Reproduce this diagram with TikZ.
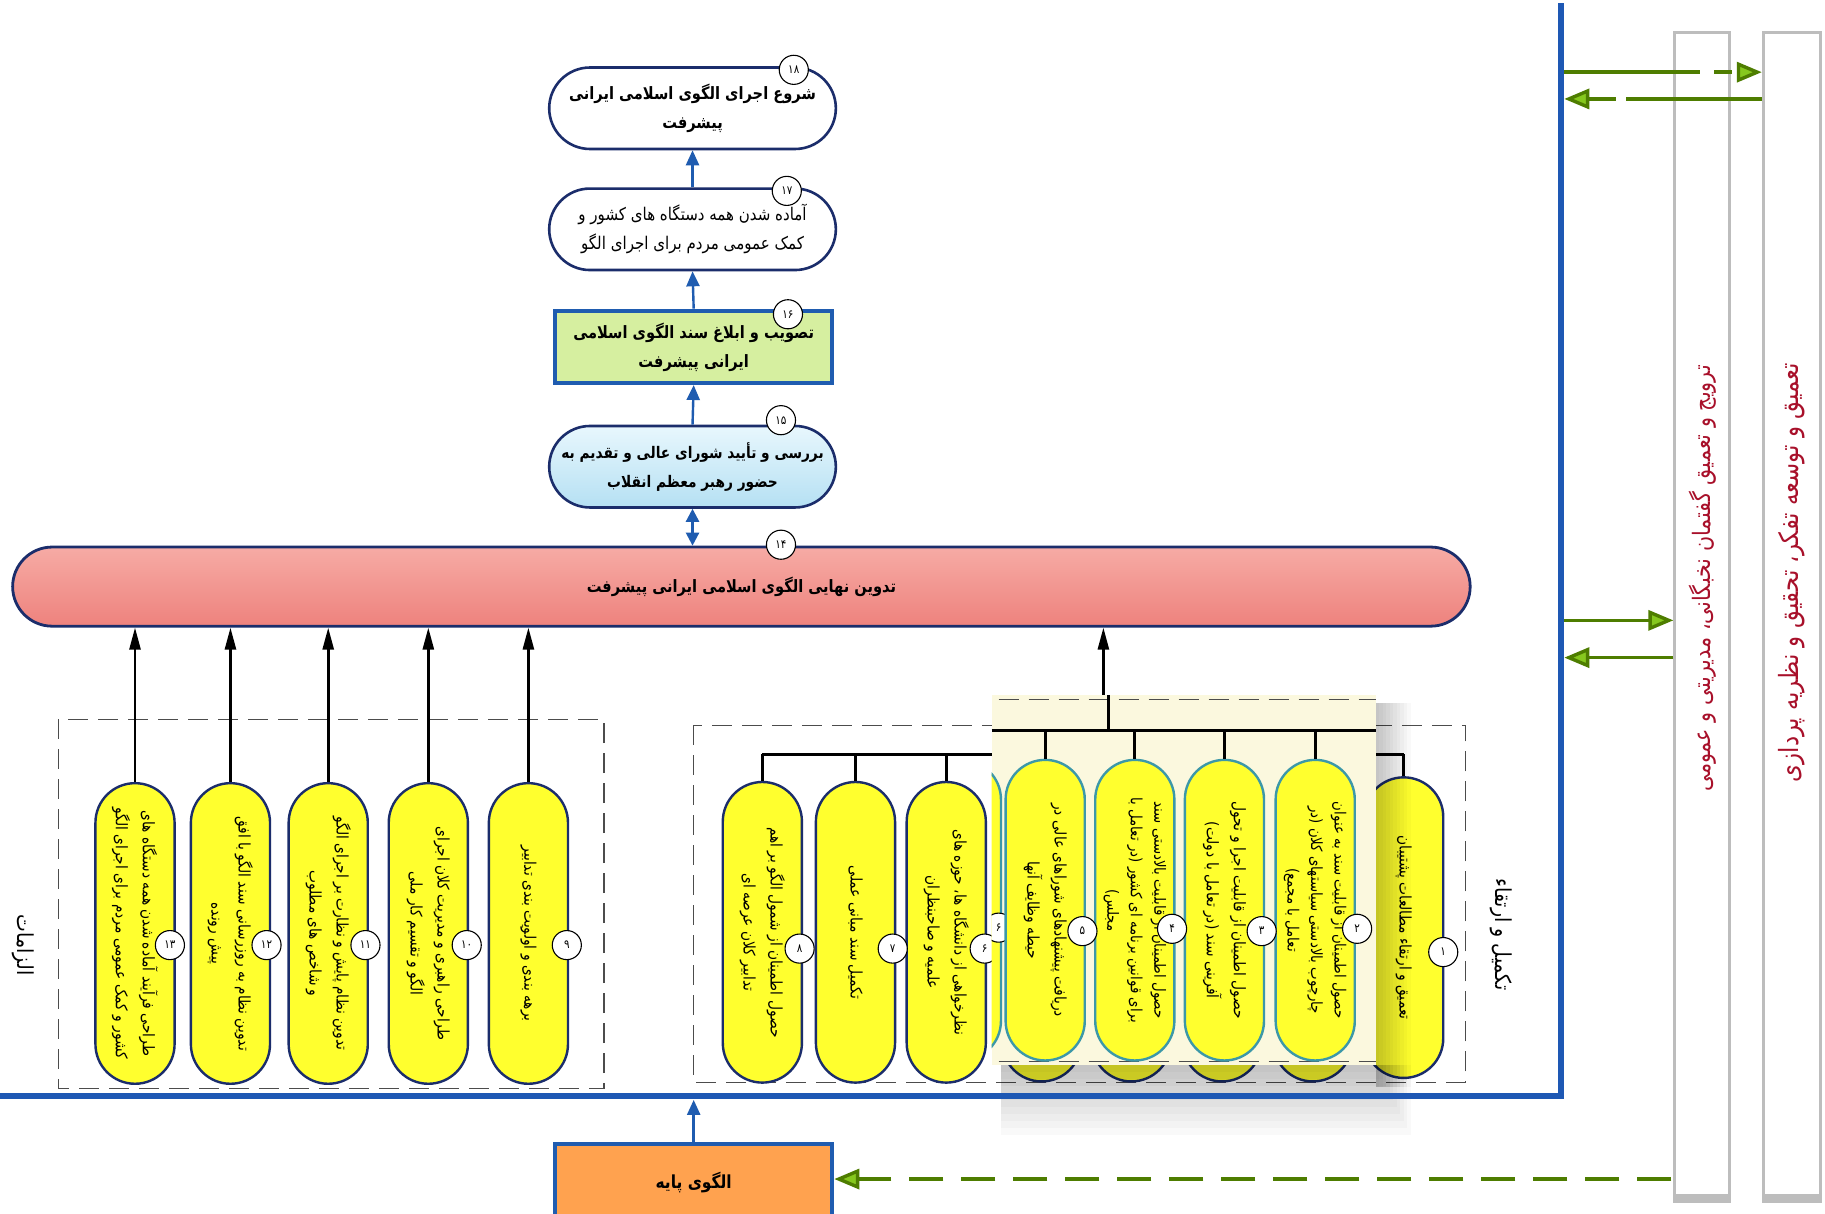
\documentclass[tikz,border=0pt]{standalone}
\usepackage{fontspec}
\usetikzlibrary{shapes.misc,arrows.meta,calc}
\setmainfont{DejaVu Sans}
\newfontfamily\arc[Script=Arabic,FakeStretch=0.86]{DejaVu Sans}
\TeXXeTstate=1
\newcommand\fa[1]{\beginR#1\endR}
\def\px{1.1639pt}
\newcommand\capfont{\arc\fontsize{16}{27}\selectfont}
\newcommand\capfontiii{\arc\fontsize{15.5}{23.5}\selectfont}
\newcommand\topfont{\arc\bfseries\fontsize{17}{29}\selectfont}
\newcommand\topfontr{\arc\fontsize{17.5}{29}\selectfont}
\definecolor{navy}{HTML}{1B2D6B}
\definecolor{arrblue}{HTML}{1F5CB0}
\definecolor{frameblue}{HTML}{1E58B4}
\definecolor{capy}{HTML}{FFFF2E}
\definecolor{tealb}{HTML}{3C98A8}
\definecolor{greenfill}{HTML}{D6EFA0}
\definecolor{orangefill}{HTML}{FFA24F}
\definecolor{barred}{HTML}{A8102A}
\definecolor{grnline}{HTML}{4E7D00}
\definecolor{grnhead}{HTML}{86C81E}
\definecolor{barg}{HTML}{BDBDBD}
\definecolor{cream}{HTML}{FBF8DE}
\definecolor{lbtop}{HTML}{E8F7FD}
\definecolor{lbbot}{HTML}{B5E0F3}
\definecolor{pktop}{HTML}{F6ABA5}
\definecolor{pkbot}{HTML}{EE827D}
\begin{document}
\begin{tikzpicture}[x=1.1639pt,y=-1.1639pt,
  capsule/.style={rounded rectangle, draw=navy, line width=2.4pt, fill=capy, rotate=-90,
    minimum width={260*\px}, minimum height={68*\px}, inner sep=1pt, align=center, font=\capfont},
  tcapsule/.style={capsule, draw=tealb},
  topcap/.style={rounded rectangle, draw=navy, line width=2.6pt, fill=white,
    minimum width={248*\px}, minimum height={70*\px}, inner sep=1pt, align=center},
  numc/.style={circle, draw=black, fill=white, line width=1.1pt, minimum size={25*\px},
    inner sep=0pt, font=\arc\fontsize{12}{12}\selectfont},
  bluearr/.style={draw=arrblue, line width=2.4pt, -{Triangle[length=15pt,width=13pt]}},
  blkarr/.style={draw=black, line width=2.6pt, -{Triangle[length=22pt,width=11pt]}},
  bus/.style={draw=black, line width=3pt},
  grp/.style={draw=black!70, line width=1.2pt, dash pattern=on 20pt off 10pt},
  grnarr/.style={draw=grnline, line width=3.4pt,
    -{Triangle[length=25pt,width=20pt,fill=grnhead]}},
  barbox/.style={rectangle, draw=barg, line width=3pt, fill=white, inner sep=0pt},
  bartext/.style={rotate=90, text=barred, font=\arc\fontsize{24}{24}\selectfont},
  label/.style={rotate=-90, font=\arc\fontsize{22}{22}\selectfont}
]
\useasboundingbox (0,0) rectangle (1568,1043);
\fill[white] (0,0) rectangle (1568,1043);

% right bars
\node[barbox, minimum width={47*\px}, minimum height={1004*\px}] (barA) at (1462.5,530) {};
\node[barbox, minimum width={49*\px}, minimum height={1004*\px}] (barB) at (1539.5,530) {};
\fill[barg] (1437.5,1026) rectangle (1487.5,1033);
\fill[barg] (1513.5,1026) rectangle (1565.5,1033);
\node[bartext] (tA) at (1463,497) {\fa{ترویج و تعمیق گفتمان نخبگانی، مدیریتی و عمومی}};
\node[bartext, font=\arc\fontsize{26.5}{26.5}\selectfont] (tB) at (1539,492) {\fa{تعمیق و توسعه تفکر، تحقیق و نظریه پردازی}};

% group boxes
\draw[grp] (50,618) rectangle (519,935);
\draw[grp] (596,623) rectangle (1259,930);

% top chain
\node[topcap, font=\topfont] (n18) at (595,93) {\fa{شروع اجرای الگوی اسلامی ایرانی}\\\fa{پیشرفت}};
\node[topcap, font=\topfontr] (n17) at (595,197) {\fa{آماده شدن همه دستگاه های کشور و}\\\fa{کمک عمومی مردم برای اجرای الگو}};
\node[rectangle, draw=arrblue, line width=4.2pt, fill=greenfill, minimum width={238*\px}, minimum height={62*\px},
  inner sep=1pt, align=center, font=\topfont] (n16) at (596,298) {\fa{تصویب و ابلاغ سند الگوی اسلامی}\\\fa{ایرانی پیشرفت}};
\node[topcap, top color=lbtop, bottom color=lbbot, font=\arc\bfseries\fontsize{16}{29}\selectfont] (n15) at (595,401)
  {\fa{بررسی و تأیید شورای عالی و تقدیم به}\\\fa{حضور رهبر معظم انقلاب}};
\node[rounded rectangle, draw=navy, line width=2.8pt, top color=pktop, bottom color=pkbot,
  minimum width={1258*\px}, minimum height={68*\px}, font=\topfont] (n14) at (637,504)
  {\fa{تدوین نهایی الگوی اسلامی ایرانی پیشرفت}};

\draw[bluearr] (n17.north) -- (n18.south);
\draw[bluearr] (n16.north) -- (n17.south);
\draw[bluearr] (n15.north) -- (n16.south);
\draw[draw=arrblue, line width=2.4pt, {Triangle[length=13pt,width=13pt]}-{Triangle[length=13pt,width=13pt]}] (n15.south) -- (n15.south |- n14.north);

\node[numc] (c18) at (682,60) {۱۸};
\node[numc] (c17) at (676,164) {۱۷};
\node[numc] (c16) at (677,270) {۱۶};
\node[numc] (c15) at (671,361) {۱۵};
\node[numc] (c14) at (671,468) {۱۴};

% left group
\node[capsule] (n13) at (116,802) {\fa{طراحی فرآیند آماده شدن همه دستگاه های}\\\fa{کشور و کمک عمومی مردم برای اجرای الگو}};
\node[capsule] (n12) at (198,802) {\fa{تدوین نظام به روزرسانی سند الگو با افق}\\\fa{پیش رونده}};
\node[capsule] (n11) at (282,802) {\fa{تدوین نظام پایش و نظارت بر اجرای الگو}\\\fa{و شاخص های مطلوب}};
\node[capsule] (n10) at (368,802) {\fa{طراحی راهبری و مدیریت کلان اجرای}\\\fa{الگو و تقسیم کار ملی}};
\node[capsule] (n9) at (454,802) {\fa{برهه بندی و اولویت بندی تدابیر}};
\foreach \n in {n13,n12,n11,n10,n9} \draw[blkarr] (\n.west) -- (\n.west |- n14.south);
\node[numc] (c13) at (146,812) {۱۳};
\node[numc] (c12) at (229,812) {۱۲};
\node[numc] (c11) at (314,812) {۱۱};
\node[numc] (c10) at (401,812) {۱۰};
\node[numc] (c9) at (487,812) {۹};

% right group
\coordinate (busY) at (0,648);
\node[capsule] (n8) at (655,801) {\fa{حصول اطمینان از شمول الگو بر اهم}\\\fa{تدابیر کلان عرصه ای}};
\node[capsule] (n7) at (735,801) {\fa{تکمیل سند مبانی عملی}};
\node[capsule] (n6) at (813,801) {\fa{نظرخواهی از دانشگاه ها، حوزه های}\\\fa{علمیه و صاحبنظران}};
\node[capsule] (o5) at (895,800) {};
\node[capsule] (o4) at (972,800) {};
\node[capsule] (o3) at (1050,800) {};
\node[capsule] (o2) at (1128,800) {};
\node[capsule] (n1) at (1206,797) {\fa{تعمیق و ارتقاء مطالعات پشتیبان}};
\draw[bus] (n8.west |- busY) -- (n1.west |- busY);
\foreach \n in {n8,n7,n6,n1} \draw[bus] (\n.west) -- (\n.west |- busY);
\node[numc] (c8) at (687,815) {۸};
\node[numc] (c7) at (767,815) {۷};
\node[numc] (c6) at (846,815) {۶};
\node[numc] (c1) at (1240,818) {۱};

% overlay (magnified part)
\fill[cream] (852,597) rectangle (1182,915);
\begin{scope}
\clip (852,597) rectangle (1182,915);
\node[tcapsule] (s6) at (826,782) {};
\node[numc] (s6c) at (858,797) {۶};
\end{scope}
\draw[black!70, line width=1.2pt, dash pattern=on 20pt off 10pt] (858,601) -- (1182,601);
\draw[black!70, line width=1.2pt, dash pattern=on 20pt off 10pt] (858,912) -- (1182,912);
\coordinate (ovtop) at (952,597);
\coordinate (ovbus) at (0,628);
\draw[bus] (852,628) -- (1182,628);
\draw[bus] (ovtop) -- (ovtop |- ovbus);
\node[tcapsule] (n5) at (898,782) {\fa{دریافت پیشنهادهای شوراهای عالی در}\\\fa{حیطه وظایف آنها}};
\node[tcapsule, font=\capfontiii] (n4) at (975,782) {\fa{حصول اطمینان از قابلیت بالادستی سند}\\\fa{برای قوانین برنامه ای کشور (در تعامل با}\\\fa{مجلس)}};
\node[tcapsule] (n3) at (1052,782) {\fa{حصول اطمینان از قابلیت اجرا و تحول}\\\fa{آفرینی سند (در تعامل با دولت)}};
\node[tcapsule, font=\capfontiii] (n2) at (1130,782) {\fa{حصول اطمینان از قابلیت سند به عنوان}\\\fa{چارچوب بالادستی سیاستهای کلان (در}\\\fa{تعامل با مجمع)}};
\foreach \n in {n5,n4,n3,n2} \draw[bus] (\n.west) -- (\n.west |- ovbus);
\node[numc] (c5) at (930,800) {۵};
\node[numc] (c4) at (1007,798) {۴};
\node[numc] (c3) at (1084,800) {۳};
\node[numc] (c2) at (1166,798) {۲};
% overlay shadow
\foreach \i in {1,...,10} \fill[black,opacity=0.022] (1182,604) rectangle ({1182+\i*3},934);
\foreach \i in {1,...,10} \fill[black,opacity=0.022] (860,915) rectangle ({1182+\i*3},{915+\i*6});
\draw[blkarr] (948,597) -- (948,597 |- n14.south);

% frame
\draw[frameblue, line width=6pt] (0,942) -- (1341,942) -- (1341,3);
\coordinate (frm) at (0,945);

% bottom node
\node[rectangle, draw=arrblue, line width=4.2pt, fill=orangefill, minimum width={238*\px}, minimum height={66*\px},
  font=\arc\bfseries\fontsize{18}{18}\selectfont] (nb) at (596,1016) {\fa{الگوی پایه}};
\draw[bluearr] (nb.north) -- (nb.north |- frm);

% green arrows
\coordinate (g1) at (1344,62);
\coordinate (g2) at (1344,85);
\coordinate (g3) at (1344,533);
\coordinate (g4) at (1344,565);
\coordinate (g5) at (1436,1013);
\draw[grnarr, dash pattern=on 136pt off 14pt on 18pt off 100pt] (g1) -- (g1 -| barB.west);
\draw[grnarr, dash pattern=on 136pt off 10pt on 60pt off 100pt] (g2 -| barB.west) -- (g2);
\draw[grnarr] (g3) -- (g3 -| barA.west);
\draw[grnarr] (g4 -| barA.west) -- (g4);
\draw[grnarr, dash pattern=on 34pt off 18pt] (g5) -- (g5 -| nb.east);

% labels
\node[label] (lz) at (20,812) {\fa{الزامات}};
\node[label] (lt) at (1290,803) {\fa{تکمیل و ارتقاء}};
\end{tikzpicture}
\end{document}
